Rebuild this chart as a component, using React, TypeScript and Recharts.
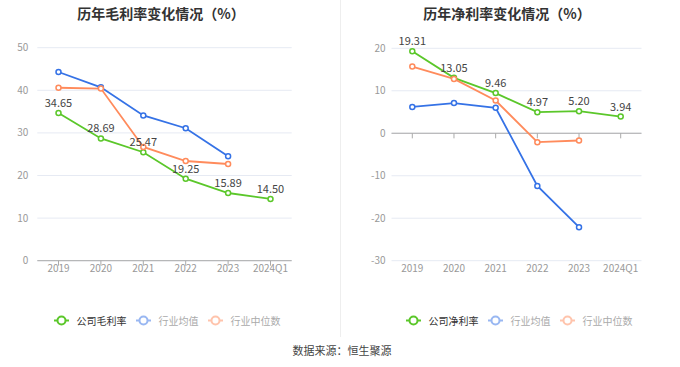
import React from 'react';
import { LineChart, Line, XAxis, YAxis, CartesianGrid, LabelList, Legend, ReferenceLine } from 'recharts';

const categories = ['2019', '2020', '2021', '2022', '2023', '2024Q1'];

const grossCompany = [34.65, 28.69, 25.47, 19.25, 15.89, 14.5];
const grossIndustryMean = [44.3, 40.7, 34.1, 31.1, 24.5, null];
const grossIndustryMedian = [40.6, 40.4, 26.7, 23.4, 22.7, null];

const netCompany = [19.31, 13.05, 9.46, 4.97, 5.2, 3.94];
const netIndustryMean = [6.2, 7.1, 6.0, -12.4, -22.1, null];
const netIndustryMedian = [15.7, 12.8, 7.7, -2.1, -1.7, null];

const grossTicks = [0, 10, 20, 30, 40, 50];
const netTicks = [-30, -20, -10, 0, 10, 20];

const grossSeriesNames = ['公司毛利率', '行业均值', '行业中位数'];
const netSeriesNames = ['公司净利率', '行业均值', '行业中位数'];

const grossData = categories.map((c, i) => ({
  name: c,
  company: grossCompany[i],
  mean: grossIndustryMean[i],
  median: grossIndustryMedian[i],
}));
const netData = categories.map((c, i) => ({
  name: c,
  company: netCompany[i],
  mean: netIndustryMean[i],
  median: netIndustryMedian[i],
}));

const GREEN = '#5bc72a';
const BLUE = '#3572e6';
const ORANGE = '#ff8b5c';
const COLORS = [GREEN, BLUE, ORANGE];
const FONT = '"Noto Sans CJK SC", "Noto Sans", sans-serif';

const makeLegend = (names: string[]) => (props: any) => {
  const payload = props.payload || [];
  const items = names.map((n, i) => {
    const found = payload.find((p: any) => p.value === n);
    return { value: n, color: found ? found.color : COLORS[i] };
  });
  return (
    <div style={{ display: 'flex', justifyContent: 'center', alignItems: 'center', fontFamily: FONT, fontSize: 10 }}>
      {items.map((p: any, i: number) => (
        <span key={i} style={{ display: 'flex', alignItems: 'center', marginLeft: i === 0 ? 0 : 9 }}>
          <svg width={15} height={11} style={{ opacity: i === 0 ? 1 : 0.5 }}>
            <line x1={0} y1={5.5} x2={15} y2={5.5} stroke={p.color} strokeWidth={2} />
            <circle cx={7.5} cy={5.5} r={4} fill="#fff" stroke={p.color} strokeWidth={2} />
          </svg>
          <span style={{ marginLeft: 8, color: i === 0 ? '#333' : '#aaa' }}>{p.value}</span>
        </span>
      ))}
    </div>
  );
};

const fmt = (v: any) => (typeof v === 'number' ? v.toFixed(2) : v);

const dot = (color: string) => ({ r: 2.5, fill: '#fff', stroke: color, strokeWidth: 1.5 });

export default function App() {
  return (
    <div style={{ position: 'absolute', left: 0, top: 0, width: 680, height: 367, background: '#fff', fontFamily: FONT }}>
      <div style={{ position: 'absolute', left: 0, top: 3, width: 322, textAlign: 'center', fontSize: 14, fontWeight: 'bold', color: '#333', lineHeight: '20px' }}>
        历年毛利率变化情况（%）
      </div>
      <div style={{ position: 'absolute', left: 340, top: 3, width: 334, textAlign: 'center', fontSize: 14, fontWeight: 'bold', color: '#333', lineHeight: '20px' }}>
        历年净利率变化情况（%）
      </div>
      <div style={{ position: 'absolute', left: 340, top: 0, width: 1, height: 337, background: '#eeeeee' }} />
      <div style={{ position: 'absolute', left: 0, top: 342, width: 684, textAlign: 'center', fontSize: 11, color: '#444', lineHeight: '16px' }}>
        数据来源：恒生聚源
      </div>

      <div style={{ position: 'absolute', left: 0, top: 0 }}>
        <LineChart width={340} height={340} data={grossData} margin={{ top: 47.7, right: 48.3, bottom: 49.3, left: 0 }}>
          <CartesianGrid horizontal vertical={false} stroke="#e6eaf3" />
          <XAxis
            dataKey="name"
            height={30}
            padding={{ left: 21.2, right: 21.2 }}
            tickSize={5}
            tickMargin={-1}
            axisLine={{ stroke: '#aaa' }}
            tickLine={{ stroke: '#aaa' }}
            tick={{ fill: '#999', fontSize: 10, fontFamily: FONT }}
            interval={0}
          />
          <YAxis
            width={37.3}
            domain={[0, 50]}
            ticks={grossTicks}
            axisLine={false}
            tickLine={false}
            tickSize={6}
            tickMargin={3}
            tick={{ fill: '#999', fontSize: 10, fontFamily: FONT }}
          />
          <Legend
            verticalAlign="middle"
            align="center"
            content={makeLegend(grossSeriesNames)}
            wrapperStyle={{ position: 'absolute', top: 313, left: 0, width: 334, height: 14 }}
          />
          <Line type="linear" dataKey="company" name={grossSeriesNames[0]} stroke={GREEN} strokeWidth={1.8} dot={dot(GREEN)} activeDot={false} isAnimationActive={false}>
            <LabelList dataKey="company" position="top" offset={6} formatter={fmt} style={{ fill: '#444', fontSize: 11, fontFamily: FONT }} />
          </Line>
          <Line type="linear" dataKey="mean" name={grossSeriesNames[1]} stroke={BLUE} strokeWidth={1.8} dot={dot(BLUE)} activeDot={false} isAnimationActive={false} />
          <Line type="linear" dataKey="median" name={grossSeriesNames[2]} stroke={ORANGE} strokeWidth={1.8} dot={dot(ORANGE)} activeDot={false} isAnimationActive={false} />
        </LineChart>
      </div>

      <div style={{ position: 'absolute', left: 340, top: 0 }}>
        <LineChart width={340} height={340} data={netData} margin={{ top: 48.3, right: 38.5, bottom: 49.3, left: 0 }}>
          <CartesianGrid horizontal vertical={false} stroke="#e6eaf3" />
          <XAxis
            dataKey="name"
            height={30}
            padding={{ left: 20.8, right: 20.8 }}
            tickSize={5}
            tickMargin={-1}
            axisLine={false}
            tickLine={false}
            tick={{ fill: '#999', fontSize: 10, fontFamily: FONT }}
            interval={0}
          />
          <YAxis
            width={51.5}
            domain={[-30, 20]}
            ticks={netTicks}
            axisLine={false}
            tickLine={false}
            tickSize={4}
            tickMargin={2}
            tick={{ fill: '#999', fontSize: 10, fontFamily: FONT }}
          />
          <ReferenceLine y={0} stroke="#aaa" />
          {categories.map((c) => (
            <ReferenceLine key={c} segment={[{ x: c, y: 0 }, { x: c, y: -1.2 }]} stroke="#aaa" />
          ))}
          <Legend
            verticalAlign="middle"
            align="center"
            content={makeLegend(netSeriesNames)}
            wrapperStyle={{ position: 'absolute', top: 313, left: 18, width: 322, height: 14 }}
          />
          <Line type="linear" dataKey="company" name={netSeriesNames[0]} stroke={GREEN} strokeWidth={1.8} dot={dot(GREEN)} activeDot={false} isAnimationActive={false}>
            <LabelList dataKey="company" position="top" offset={6} formatter={fmt} style={{ fill: '#444', fontSize: 11, fontFamily: FONT }} />
          </Line>
          <Line type="linear" dataKey="mean" name={netSeriesNames[1]} stroke={BLUE} strokeWidth={1.8} dot={dot(BLUE)} activeDot={false} isAnimationActive={false} />
          <Line type="linear" dataKey="median" name={netSeriesNames[2]} stroke={ORANGE} strokeWidth={1.8} dot={dot(ORANGE)} activeDot={false} isAnimationActive={false} />
        </LineChart>
      </div>
    </div>
  );
}
